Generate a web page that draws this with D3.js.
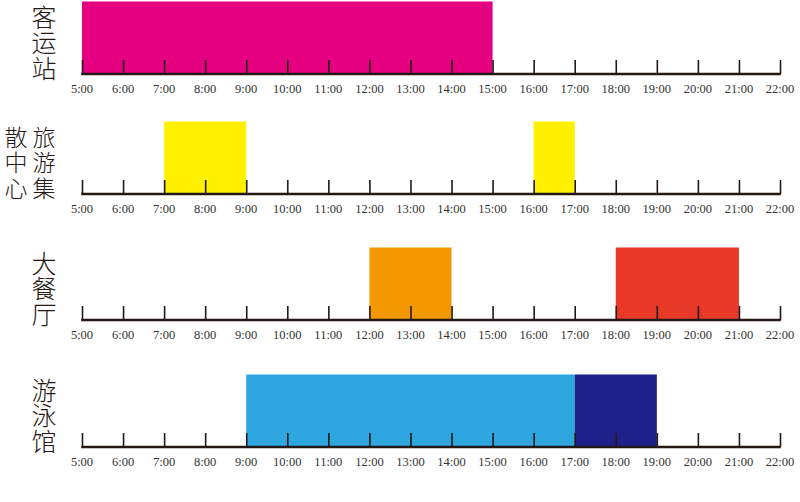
<!DOCTYPE html>
<html><head><meta charset="utf-8">
<script src="https://cdn.jsdelivr.net/npm/d3@7"></script>
<style>body{margin:0;background:#fff}svg{display:block}</style>
</head><body>
<svg id="c" width="800" height="502"></svg>
<script>
const categories = ["客运站", "旅游集散中心", "大餐厅", "游泳馆"];
const hours = d3.range(5, 23);
const tickLabels = hours.map(h => h + ":00");
const intervals = [
  {row: "客运站", start: 5, end: 15, color: "#E4007F"},
  {row: "旅游集散中心", start: 7, end: 9, color: "#FFF100"},
  {row: "旅游集散中心", start: 16, end: 17, color: "#FFF100"},
  {row: "大餐厅", start: 12, end: 14, color: "#F39800"},
  {row: "大餐厅", start: 18, end: 21, color: "#E83828"},
  {row: "游泳馆", start: 9, end: 17, color: "#2EA7E0"},
  {row: "游泳馆", start: 17, end: 19, color: "#1D2088"}
];

const svg = d3.select("#c");
const x = d3.scaleLinear().domain([5, 22]).range([82, 780]);
const yAxis = d3.scaleOrdinal().domain(categories).range([74, 194, 320, 447]);
const barH = 72.5;
const ink = "#231815";

// bars
svg.selectAll("rect.bar").data(intervals).join("rect")
  .attr("x", d => x(d.start)).attr("width", d => x(d.end) - x(d.start))
  .attr("y", d => yAxis(d.row) - barH).attr("height", barH)
  .attr("fill", d => d.color);

// axes
categories.forEach(cat => {
  const y0 = yAxis(cat);
  const g = svg.append("g").attr("transform", `translate(0,${y0})`);
  const ax = d3.axisTop(x).tickValues(hours).tickSize(14).tickFormat("");
  g.call(ax);
  g.select(".domain").remove();
  g.selectAll(".tick line").attr("stroke", ink).attr("stroke-width", 1.6);
  g.append("line").attr("x1", x(5) - 0.8).attr("x2", x(22) + 0.8)
    .attr("stroke", ink).attr("stroke-width", 2.6);
  g.selectAll("text.tl").data(hours).join("text").attr("class", "tl")
    .attr("x", d => x(d)).attr("y", 19)
    .attr("text-anchor", "middle")
    .attr("font-family", "Liberation Serif, Times New Roman, serif")
    .attr("font-size", 12.5).attr("fill", "#333")
    .text((d, i) => tickLabels[i]);

  // vertical label
  const chars = Array.from(cat);
  const per = 3;
  const cols = [];
  for (let i = 0; i < chars.length; i += per) cols.push(chars.slice(i, i + per));
  const colX = [44, 16];
  const pitch = 25.5;
  cols.forEach((col, ci) => {
    col.forEach((ch, ri) => {
      svg.append("text")
        .attr("x", colX[ci])
        .attr("y", y0 - 33 + (ri - 1) * pitch)
        .attr("text-anchor", "middle")
        .attr("dominant-baseline", "central")
        .attr("font-family", "Noto Sans CJK SC, sans-serif")
        .attr("font-weight", 300)
        .attr("font-size", cols.length > 1 ? 23 : 25)
        .attr("fill", ink)
        .text(ch);
    });
  });
});
</script>
</body></html>
